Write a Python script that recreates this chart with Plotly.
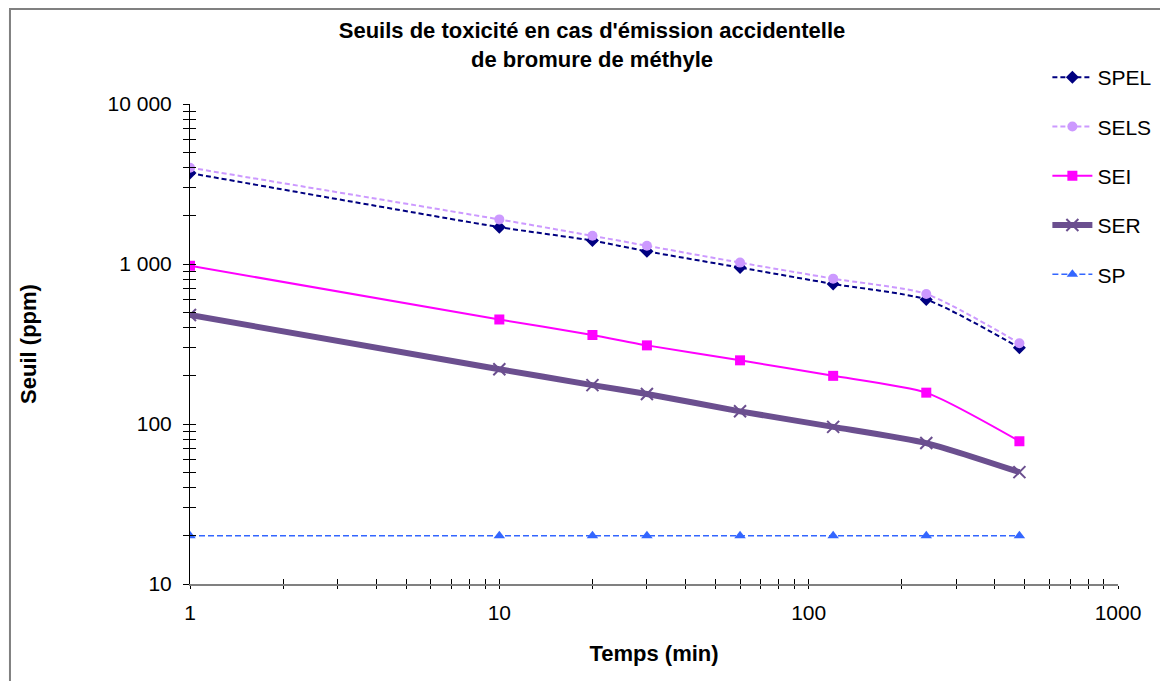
import plotly.graph_objects as go

# ---- data ----
temps = [1, 10, 20, 30, 60, 120, 240, 480]
spel = [3700, 1700, 1400, 1200, 950, 750, 600, 300]
sels = [4000, 1900, 1500, 1300, 1020, 810, 650, 320]
sei = [975, 450, 360, 310, 250, 200, 157, 78]
ser = [480, 220, 175, 154, 120, 96, 76, 50]
sp = [20, 20, 20, 20, 20, 20, 20, 20]

x_major = [1, 10, 100, 1000]
x_major_labels = ["1", "10", "100", "1000"]
y_major = [10, 100, 1000, 10000]
y_major_labels = ["10", "100", "1 000", "10 000"]

FONT = "Liberation Sans, Arial, sans-serif"


def log_ticks(majors, labels):
    vals, texts = [], []
    for i, m in enumerate(majors):
        vals.append(m)
        texts.append(labels[i])
        if i < len(majors) - 1:
            for k in range(2, 10):
                vals.append(m * k)
                texts.append("")
    return vals, texts


xv, xt = log_ticks(x_major, x_major_labels)
yv, yt = log_ticks(y_major, y_major_labels)

fig = go.Figure()

common = dict(mode="lines+markers", line_shape="spline")

fig.add_trace(go.Scatter(
    x=temps, y=spel, name="SPEL", legendgroup="a", **common,
    line=dict(color="#000080", width=2, dash="5px,3px", smoothing=0.6),
    marker=dict(symbol="diamond", size=10, color="#000080")))
fig.add_trace(go.Scatter(
    x=temps, y=sels, name="SELS", legendgroup="b", **common,
    line=dict(color="#CC99FF", width=2, dash="5px,3px", smoothing=0.6),
    marker=dict(symbol="circle", size=10, color="#CC99FF")))
fig.add_trace(go.Scatter(
    x=temps, y=sei, name="SEI", legendgroup="c", **common,
    line=dict(color="#FF00FF", width=2, smoothing=0.6),
    marker=dict(symbol="square", size=10, color="#FF00FF")))
fig.add_trace(go.Scatter(
    x=temps, y=ser, name="SER", legendgroup="d", **common,
    line=dict(color="#6B4F8F", width=6, smoothing=0.6),
    marker=dict(symbol="x-thin", size=12, color="#6B4F8F",
                line=dict(color="#6B4F8F", width=2))))
fig.add_trace(go.Scatter(
    x=temps, y=sp, name="SP", legendgroup="e", mode="lines+markers",
    line=dict(color="#3366FF", width=1.5, dash="6px,3px"),
    marker=dict(symbol="triangle-up", size=10, color="#3366FF")))

# invisible helper trace for the overlay axes (inner half of crossing ticks)
fig.add_trace(go.Scatter(x=[1], y=[10], xaxis="x2", yaxis="y2", mode="markers",
                         marker=dict(opacity=0), showlegend=False, hoverinfo="skip"))

# page body margin offset (8px) compensation
OFF = 8
W, H = 1168 - OFF, 681 - OFF
# plot area in reference pixel coordinates
PL, PR, PT, PB = 190, 1123, 104, 584
L, T = PL - OFF, PT - OFF
R = W - (PR - OFF)
B = H - (PB - OFF)
pw, ph = PR - PL, PB - PT


def px2paper_x(px):
    return (px - PL) / pw


def px2paper_y(py):
    return (PB - py) / ph


fig.update_layout(
    width=W, height=H,
    margin=dict(l=L, r=R, t=T, b=B),
    paper_bgcolor="white", plot_bgcolor="white",
    font=dict(family=FONT, size=21, color="black"),
    title=dict(text="<b>Seuils de toxicité en cas d'émission accidentelle<br>de bromure de méthyle</b>",
               x=(592 - OFF) / W, xanchor="center", y=1 - (38 - OFF) / H, yanchor="top",
               font=dict(family=FONT, size=22, color="black")),
    xaxis=dict(type="log", range=[0, 3], tickvals=xv, ticktext=xt,
               ticks="outside", ticklen=3, tickwidth=1, tickcolor="black",
               showline=True, linecolor="#808080", linewidth=2,
               showgrid=False, zeroline=False, ticklabelstandoff=6,
               tickfont=dict(size=21),
               title=dict(text="<b>Temps (min)</b>", standoff=22,
                          font=dict(family=FONT, size=22))),
    yaxis=dict(type="log", range=[1, 4], tickvals=yv, ticktext=yt,
               ticks="outside", ticklen=6, tickwidth=1, tickcolor="black",
               showline=True, linecolor="black", linewidth=1,
               showgrid=False, zeroline=False, ticklabelstandoff=7,
               tickfont=dict(size=21),
               title=dict(text="<b>Seuil (ppm)</b>", standoff=64,
                          font=dict(family=FONT, size=22))),
    xaxis2=dict(type="log", range=[0, 3], tickvals=xv, ticktext=[""] * len(xv),
                overlaying="x", anchor="y", side="bottom", matches="x",
                ticks="inside", ticklen=5, tickwidth=1, tickcolor="black",
                showline=False, showgrid=False, zeroline=False, showticklabels=False),
    yaxis2=dict(type="log", range=[1, 4], tickvals=yv, ticktext=[""] * len(yv),
                overlaying="y", anchor="x", side="left", matches="y",
                ticks="inside", ticklen=6, tickwidth=1, tickcolor="black",
                showline=False, showgrid=False, zeroline=False, showticklabels=False),
    legend=dict(x=px2paper_x(1052), y=px2paper_y(57), xanchor="left", yanchor="top",
                font=dict(family=FONT, size=21, color="black"),
                tracegroupgap=19, bgcolor="rgba(0,0,0,0)", itemwidth=40),
    showlegend=True,
    shapes=[dict(type="rect", xref="paper", yref="paper",
                 x0=px2paper_x(9), y0=px2paper_y(700), x1=px2paper_x(1200), y1=px2paper_y(9),
                 line=dict(color="#808080", width=2), layer="below")],
)

fig.write_html("out.html")
